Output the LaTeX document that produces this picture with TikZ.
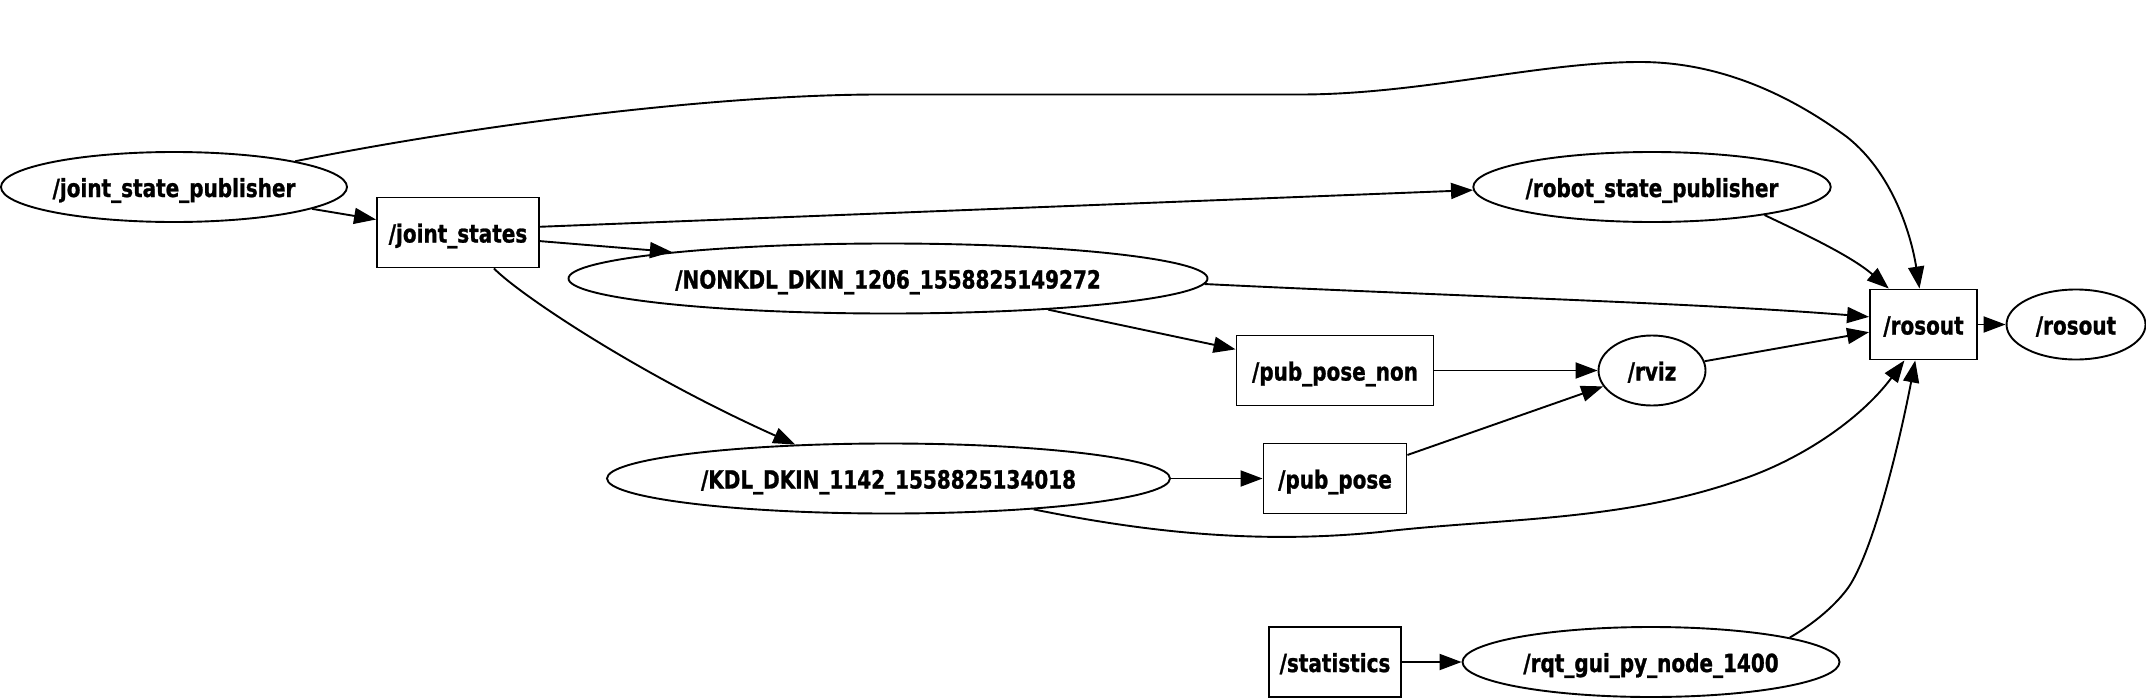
\documentclass[tikz,border=0pt]{standalone}
\usepackage{fontspec}
\newfontfamily\nodefont[FakeStretch=0.8,BoldFeatures={FakeBold=1.0}]{DejaVu Sans}
\usetikzlibrary{shapes.geometric,arrows.meta}
\begin{document}
\begin{tikzpicture}[x=1pt,y=-1pt,
  base/.style={draw=black, line width=1.9pt, inner sep=0pt, minimum height=70pt,
    text height=25pt, text depth=5pt,
    font=\nodefont\bfseries\fontsize{25}{29}\selectfont},
  ell/.style={base, ellipse},
  topic/.style={base, rectangle},
  conn/.style={-{Triangle[length=22pt,width=16pt]}, line width=1.9pt, black}]
\useasboundingbox (0,0) rectangle (2146,699);
\fill[white] (0,0) rectangle (2146,699);

% nodes
\node[ell, minimum width=346pt] (jsp) at (174,187) {/joint\_state\_publisher};
\node[topic, minimum width=162pt] (js) at (458,232.5) {/joint\_states};
\node[ell, minimum width=355pt] (rsp) at (1652,187) {/robot\_state\_publisher};
\node[ell, minimum width=639pt] (non) at (888,278.5) {/NONKDL\_DKIN\_1206\_1558825149272};
\node[ell, minimum width=563pt] (kdl) at (888.5,478.5) {/KDL\_DKIN\_1142\_1558825134018};
\node[topic, minimum width=197pt] (ppn) at (1335,370.5) {/pub\_pose\_non};
\node[topic, minimum width=143pt] (pp) at (1335,478.5) {/pub\_pose};
\node[ell, minimum width=107pt] (rviz) at (1652,370.5) {/rviz};
\node[topic, minimum width=107pt] (ros) at (1923.5,324.5) {/rosout};
\node[ell, minimum width=139pt] (rose) at (2076,324.5) {/rosout};
\node[topic, minimum width=132pt] (stat) at (1335,662) {/statistics};
\node[ell, minimum width=377pt] (rqt) at (1651,662) {/rqt\_gui\_py\_node\_1400};

% connectors
\draw[conn] (jsp.12) .. controls (480,124) and (720,94.5) .. (880,94.5)
  -- (1300,94.5) .. controls (1420,94.5) and (1540,62) .. (1640,62)
  .. controls (1720,62) and (1790,95) .. (1847,137)
  .. controls (1895,175) and (1912,240) .. ([xshift=-4pt]ros.north);
\draw[conn] (jsp.-9) -- (js.171);
\draw[conn] (js.4.6) -- (rsp.181.5);
\draw[conn] (js.-6) -- (non.173.8);
\draw[conn] (js.-45) .. controls (520,295) and (640,375) .. (kdl.160.9);
\draw[conn] (non.-1.5) .. controls (1450,296) and (1700,303) .. (ros.172.4);
\draw[conn] (non.-11.7) -- (ppn.168.2);
\draw[conn] (ppn.east) -- (rviz.west);
\draw[conn] (rviz.10) -- (ros.188);
\draw[conn] (kdl.east) -- (pp.west);
\draw[conn] (pp.18.9) -- (rviz.198.5);
\draw[conn] (kdl.-12.7) .. controls (1150,533) and (1260,544) .. (1380,532)
  .. controls (1500,518) and (1620,522) .. (1740,480)
  .. controls (1800,460) and (1860,420) .. (ros.242);
\draw[conn] (rsp.-14.4) .. controls (1800,232) and (1850,255) .. (ros.134.2);
\draw[conn] (rqt.10.6) .. controls (1820,620) and (1840,600) .. (1850,585)
  .. controls (1875,545) and (1900,440) .. (ros.-103.7);
\draw[conn] (stat.east) -- (rqt.west);
\draw[conn] (ros.east) -- (rose.west);
\end{tikzpicture}
\end{document}
